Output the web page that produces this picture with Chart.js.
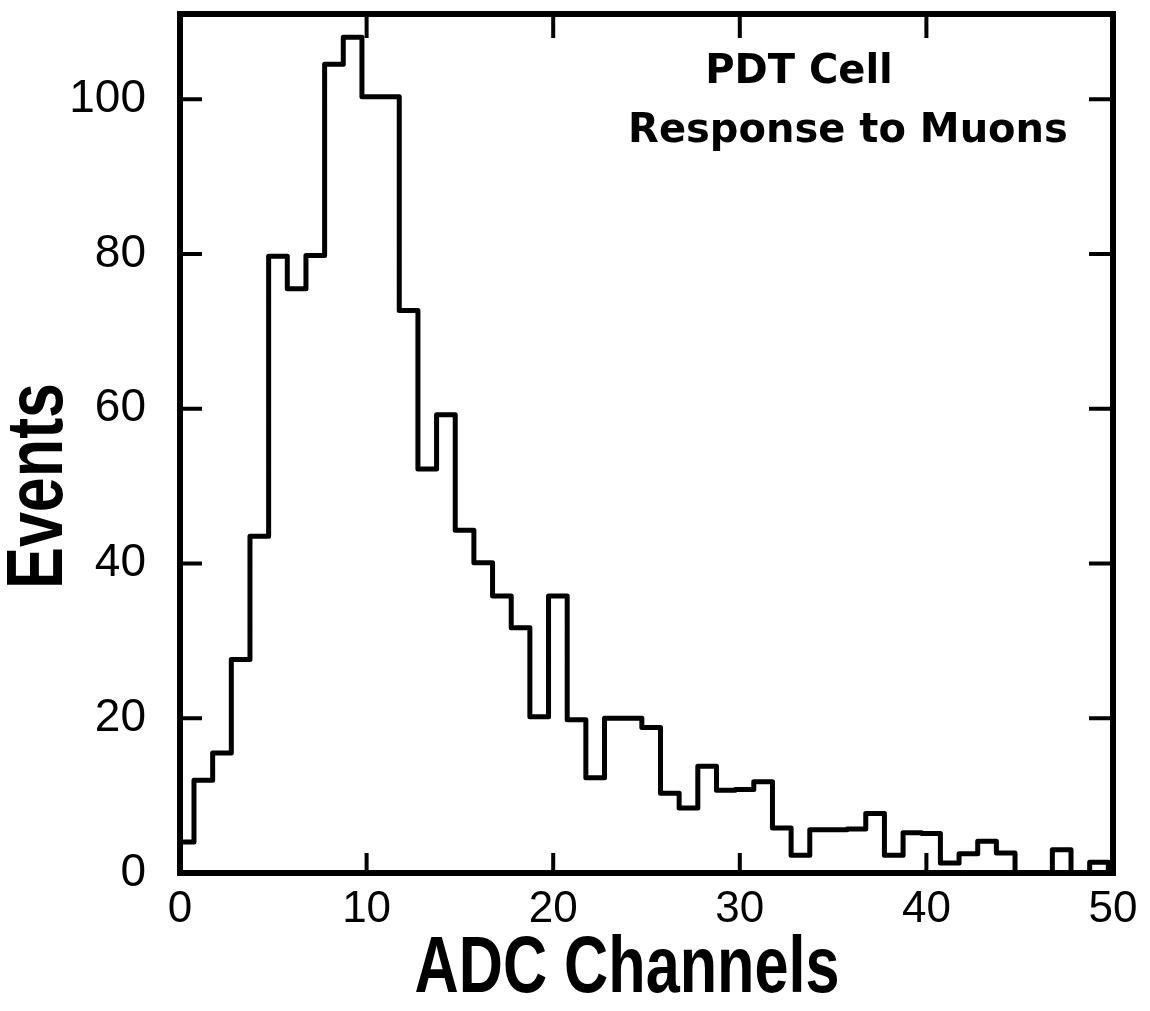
<!DOCTYPE html>
<html>
<head>
<meta charset="utf-8">
<script src="https://cdn.jsdelivr.net/npm/chart.js@4.4.1/dist/chart.umd.min.js"></script>
<style>
html, body { margin: 0; padding: 0; background: #fff; }
#holder { display: block; }
</style>
</head>
<body>
<canvas id="holder" width="1150" height="1011"></canvas>
<script>
"use strict";
// Left edge of each ADC bin (channels) and the events in it
const binEdges = [0, 0.75, 1.75, 2.75, 3.75, 4.75, 5.75, 6.75, 7.75, 8.75,
  9.75, 10.75, 11.75, 12.75, 13.75, 14.75, 15.75, 16.75, 17.75, 18.75,
  19.75, 20.75, 21.75, 22.75, 23.75, 24.75, 25.75, 26.75, 27.75, 28.75,
  29.75, 30.75, 31.75, 32.75, 33.75, 34.75, 35.75, 36.75, 37.75, 38.75,
  39.75, 40.75, 41.75, 42.75, 43.75, 44.75, 45.75, 46.75, 47.75, 48.75, 49.75];
const counts = [4, 12, 15.5, 27.6, 43.5, 79.7, 75.5, 79.8, 104.5, 108,
  100.3, 100.3, 72.7, 52.2, 59.2, 44.3, 40.1, 35.8, 31.7, 20.2,
  35.8, 19.8, 12.3, 20, 20, 18.8, 10.3, 8.4, 13.8, 10.7,
  10.8, 11.8, 5.8, 2.3, 5.6, 5.6, 5.7, 7.7, 2.3, 5.2,
  5.1, 1.3, 2.5, 4.1, 2.6, 0, 0, 3, 0, 1.4, 0];
const xTicks = [0, 10, 20, 30, 40, 50];
const yTicks = [0, 20, 40, 60, 80, 100];
const X_MAX = 50;
const Y_MAX = 111;
const NOTE_LINES = ["PDT Cell", "Response to Muons"];

const HOLDER = document.getElementById("holder");
const TICK_FONT = "'Liberation Sans', Arial, sans-serif";
const TITLE_FONT = "'Liberation Sans', Arial, sans-serif";

/**
 * Draw a bold title squeezed to a given length (the original lettering is condensed)
 */
function squeezedText(ctx, text, cx, cy, len, angle) {
  const w = ctx.measureText(text).width;
  ctx.save();
  ctx.translate(cx, cy);
  ctx.rotate(angle);
  ctx.scale(Math.min(1, len / w), 1);
  ctx.fillText(text, 0, 0);
  ctx.restore();
}

// frame, inward ticks and the texts Chart.js can't place itself
const framePlugin = {
  id: "frame",
  afterDatasetsDraw(chart) {
    const { ctx, chartArea: a, scales: { x, y } } = chart;
    ctx.save();
    ctx.strokeStyle = "#000";
    ctx.lineCap = "butt";
    ctx.lineWidth = 4;
    ctx.beginPath();
    yTicks.slice(1).forEach((v) => {
      const py = y.getPixelForValue(v);
      ctx.moveTo(a.left, py);
      ctx.lineTo(a.left + 22, py);
      ctx.moveTo(a.right, py);
      ctx.lineTo(a.right - 24, py);
    });
    xTicks.slice(1, -1).forEach((v) => {
      const px = x.getPixelForValue(v);
      ctx.moveTo(px, a.bottom);
      ctx.lineTo(px, a.bottom - 20);
      ctx.moveTo(px, a.top);
      ctx.lineTo(px, a.top + 24);
    });
    ctx.stroke();
    ctx.lineWidth = 6;
    ctx.strokeRect(a.left, a.top, a.right - a.left, a.bottom - a.top);

    ctx.fillStyle = "#000";
    ctx.textBaseline = "middle";
    ctx.textAlign = "center";
    ctx.font = "bold 80px " + TITLE_FONT;
    squeezedText(ctx, "ADC Channels", 627, 970, 425, 0);
    squeezedText(ctx, "Events", 40, 486, 206, -Math.PI / 2);

    ctx.font = "bold 40px 'DejaVu Sans', sans-serif";
    ctx.fillText(NOTE_LINES[0], 799, 73);
    ctx.fillText(NOTE_LINES[1], 848, 132);
    ctx.restore();
  },
};

new Chart(HOLDER, {
  type: "line",
  data: {
    datasets: [{
      label: "Events",
      data: binEdges.map((e, i) => ({ x: e, y: counts[i] })),
      stepped: "before",
      borderColor: "#000",
      borderWidth: 5,
      borderJoinStyle: "round",
      pointRadius: 0,
      fill: false,
      tension: 0,
    }],
  },
  options: {
    responsive: false,
    animation: false,
    devicePixelRatio: 1,
    layout: { padding: { top: 14, right: 37, left: 0, bottom: 0 } },
    plugins: { legend: { display: false }, tooltip: { enabled: false } },
    scales: {
      x: {
        type: "linear",
        min: 0,
        max: X_MAX,
        afterFit: (s) => {
          s.height = 138;
          s.paddingLeft = 0;
          s.paddingRight = 0;
        },
        afterBuildTicks: (s) => { s.ticks = xTicks.map((v) => ({ value: v })); },
        grid: { display: false, drawTicks: false },
        border: { display: false },
        ticks: { color: "#000", padding: 10, maxRotation: 0, font: { family: TICK_FONT, size: 44 } },
      },
      y: {
        min: 0,
        max: Y_MAX,
        afterFit: (s) => {
          s.width = 180;
          s.paddingTop = 0;
          s.paddingBottom = 0;
        },
        afterBuildTicks: (s) => { s.ticks = yTicks.map((v) => ({ value: v })); },
        grid: { display: false, drawTicks: false },
        border: { display: false },
        ticks: { color: "#000", padding: 34, font: { family: TICK_FONT, size: 46 } },
      },
    },
  },
  plugins: [framePlugin],
});
</script>
</body>
</html>
